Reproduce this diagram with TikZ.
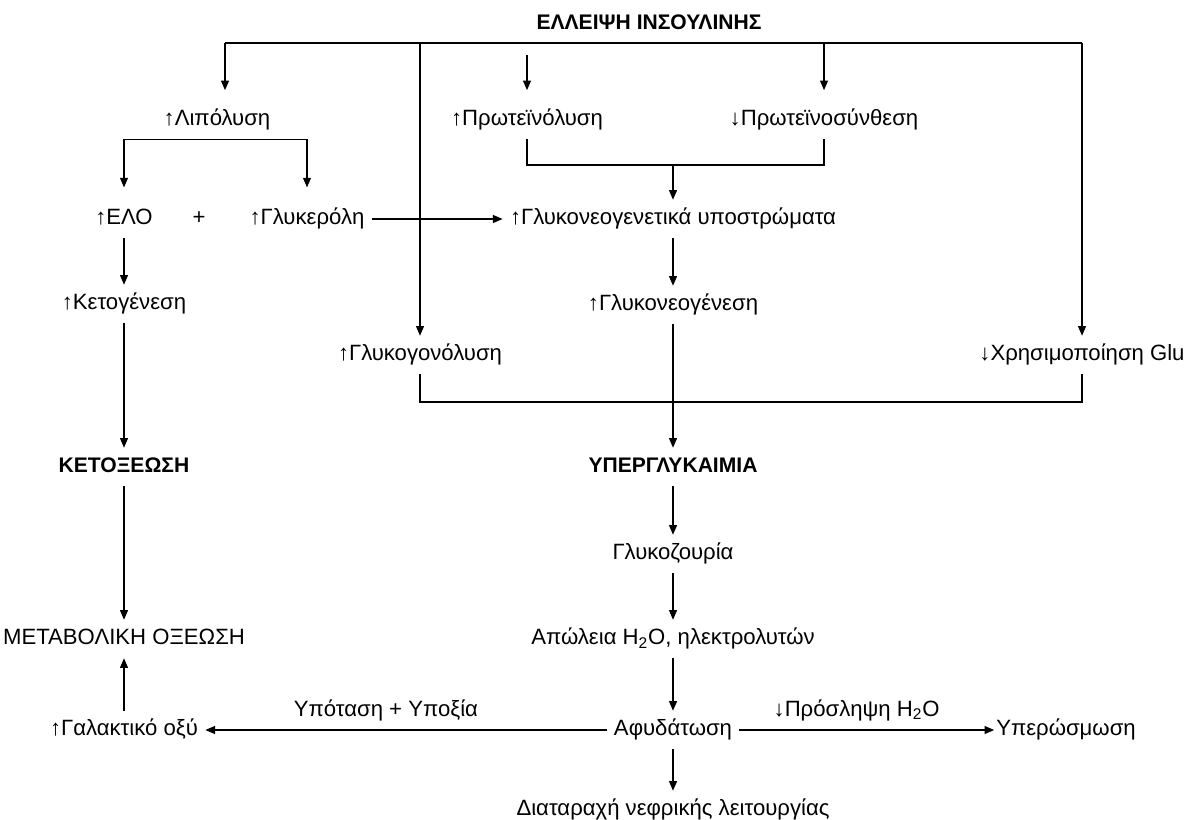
\documentclass[tikz,border=0pt]{standalone}
\usepackage{fontspec}
\setmainfont{Liberation Sans}
\usetikzlibrary{arrows.meta}

\begin{document}
\begin{tikzpicture}[%
    x=0.02cm, y=-0.02cm,
    txt/.style={font=\fontsize{12.6}{14}\selectfont, text height=9pt, text depth=2.5pt, inner xsep=4pt, inner ysep=5pt},
    head/.style={txt, font=\fontsize{12}{14}\selectfont\bfseries},
    flow/.style={line width=0.75pt, -{Triangle[length=5.5pt,width=4.5pt]}},
    link/.style={line width=0.75pt}
  ]
  \useasboundingbox (0,0) rectangle (1189,820);

  \node[head] (lack)  at (649,24)   {ΕΛΛΕΙΨΗ ΙΝΣΟΥΛΙΝΗΣ};
  \node[txt]  (lipo)  at (217,120)  {↑Λιπόλυση};
  \node[txt]  (prot)  at (527,120)  {↑Πρωτεϊνόλυση};
  \node[txt]  (psyn)  at (824,120)  {↓Πρωτεϊνοσύνθεση};
  \node[txt]  (elo)   at (124,219)  {↑ΕΛΟ};
  \node[txt]  (plus)  at (199,219)  {+};
  \node[txt]  (glyc)  at (307,219)  {↑Γλυκερόλη};
  \node[txt]  (subs)  at (673,219)  {↑Γλυκονεογενετικά υποστρώματα};
  \node[txt]  (keto)  at (124,304)  {↑Κετογένεση};
  \node[txt]  (gneo)  at (673,305)  {↑Γλυκονεογένεση};
  \node[txt]  (gglyc) at (420,355)  {↑Γλυκογονόλυση};
  \node[txt]  (uglu)  at (1082,355) {↓Χρησιμοποίηση Glu};
  \node[head] (ketox) at (124,467)  {ΚΕΤΟΞΕΩΣΗ};
  \node[head] (hyper) at (673,467)  {ΥΠΕΡΓΛΥΚΑΙΜΙΑ};
  \node[txt]  (gluc)  at (673,554)  {Γλυκοζουρία};
  \node[txt]  (meta)  at (124,639)  {ΜΕΤΑΒΟΛΙΚΗ ΟΞΕΩΣΗ};
  \node[txt]  (loss)  at (673,639)  {Απώλεια H\textsubscript{2}O, ηλεκτρολυτών};
  \node[txt]  (lact)  at (124,730)  {↑Γαλακτικό οξύ};
  \node[txt]  (dehy)  at (673,730)  {Αφυδάτωση};
  \node[txt]  (hypo)  at (1066,730) {Υπερώσμωση};
  \node[txt]  (renal) at (673,810)  {Διαταραχή νεφρικής λειτουργίας};

  \coordinate (tl)    at (225,43);
  \coordinate (tr)    at (1082,43);
  \coordinate (pjoin) at (673,165);
  \coordinate (gjoin) at (673,402);

  \draw[link] (tl) -- (tr);
  \draw[flow, shorten >=6pt] (tl) -- (tl |- lipo.north);
  \draw[flow, shorten >=6pt, shorten <=7pt] (prot |- tl) -- (prot);
  \draw[flow, shorten >=6pt] (psyn |- tl) -- (psyn);
  \draw[flow] (gglyc |- tl) -- (gglyc);
  \draw[flow] (tr) -- (uglu);

  \draw[flow, shorten >=7pt] (lipo.south) -| (elo);
  \draw[flow, shorten >=7pt] (lipo.south) -| (glyc);
  \draw[link] (prot.south) |- (pjoin) -| (psyn.south);
  \draw[link] (gglyc.south) |- (gjoin) -| (uglu.south);

  \path[flow] (glyc)  edge (subs)
              (pjoin) edge (subs)
              (subs)  edge (gneo)
              (gneo)  edge (hyper)
              (elo)   edge (keto)
              (keto)  edge (ketox)
              (ketox) edge (meta)
              (hyper) edge (gluc)
              (gluc)  edge (loss)
              (loss)  edge (dehy)
              (dehy)  edge (renal)
              (lact)  edge (meta);

  \draw[flow] (dehy) -- node[txt, above, pos=0.55] (hypox) {Υπόταση + Υποξία} (lact);
  \draw[flow, shorten >=-3pt] (dehy) -- node[txt, above, pos=0.47] (intake) {↓Πρόσληψη H\textsubscript{2}O} (hypo);
\end{tikzpicture}
\end{document}
